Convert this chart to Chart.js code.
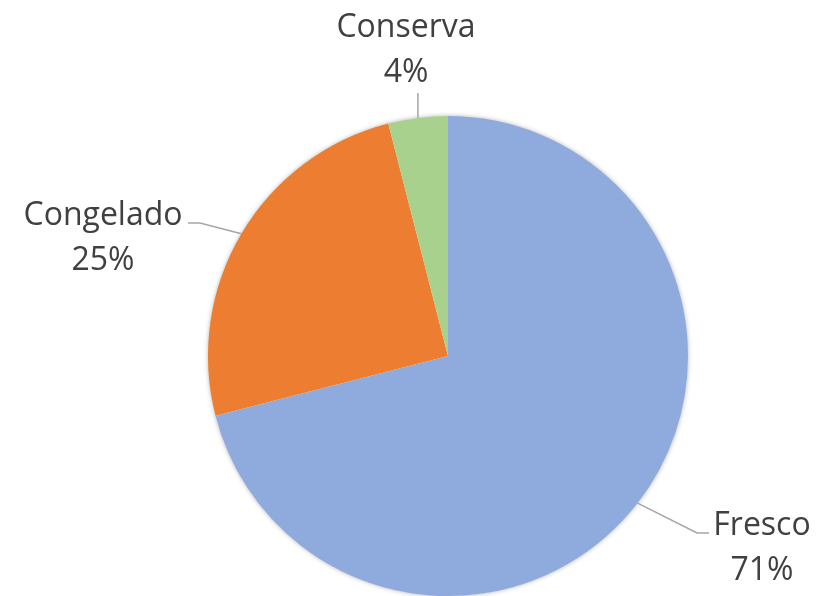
<!DOCTYPE html>
<html>
<head>
  <script src="https://cdn.jsdelivr.net/npm/chart.js@4"></script>
  <style>
    body { margin: 0; background: #fff; }
    #wrap { width: 818px; height: 596px; }
  </style>
</head>
<body>
  <div id="wrap">
    <canvas id="pie" width="818" height="596"></canvas>
  </div>
  <script>
    const categories = ['Fresco', 'Congelado', 'Conserva'];
    const shares = [71, 25, 4];
    const sliceColors = ['#8FAADC', '#ED7D31', '#A9D18E'];

    // where each data label sits: text centre x, first baseline y, elbow of the leader line
    const labelSpots = [
      { x: 762, y: 535, elbow: [[697, 533], [709, 533]] },
      { x: 103, y: 225, elbow: [[200, 223], [188, 223]] },
      { x: 406, y: 37,  elbow: [[null, 93]] }
    ];

    // soft shadow round the whole pie, drawn once under the slices
    const shadowPlugin = {
      id: 'shadow',
      beforeDatasetsDraw(chart) {
        const arc = chart.getDatasetMeta(0).data[0];
        if (!arc) return;
        const ctx = chart.ctx;
        ctx.save();
        ctx.shadowColor = 'rgba(0,0,0,0.35)';
        ctx.shadowBlur = 5;
        ctx.fillStyle = '#fff';
        ctx.beginPath();
        ctx.arc(arc.x, arc.y, arc.outerRadius - 0.5, 0, Math.PI * 2);
        ctx.fill();
        ctx.restore();
      }
    };

    const outsideLabels = {
      id: 'outsideLabels',
      afterDraw(chart) {
        const ctx = chart.ctx;
        const meta = chart.getDatasetMeta(0);
        const total = shares.reduce((a, b) => a + b, 0);
        ctx.save();
        meta.data.forEach((arc, i) => {
          const mid = (arc.startAngle + arc.endAngle) / 2;
          const ex = arc.x + Math.cos(mid) * arc.outerRadius;
          const ey = arc.y + Math.sin(mid) * arc.outerRadius;
          const spot = labelSpots[i];

          ctx.strokeStyle = '#A6A6A6';
          ctx.lineWidth = 1.5;
          ctx.beginPath();
          ctx.moveTo(ex, ey);
          spot.elbow.forEach(p => ctx.lineTo(p[0] === null ? ex : p[0], p[1]));
          ctx.stroke();

          ctx.fillStyle = '#404040';
          ctx.font = '32px "Open Sans"';
          ctx.textAlign = 'center';
          ctx.textBaseline = 'alphabetic';
          ctx.fillText(categories[i], spot.x, spot.y);
          ctx.fillText(Math.round(shares[i] / total * 100) + '%', spot.x, spot.y + 45);
        });
        ctx.restore();
      }
    };

    new Chart(document.getElementById('pie'), {
      type: 'pie',
      data: {
        labels: categories,
        datasets: [{
          data: shares,
          backgroundColor: sliceColors,
          borderWidth: 0
        }]
      },
      options: {
        responsive: false,
        animation: false,
        layout: { padding: { top: 116, bottom: 0, left: 208, right: 130 } },
        plugins: {
          legend: { display: false },
          tooltip: { enabled: false }
        }
      },
      plugins: [shadowPlugin, outsideLabels]
    });
  </script>
</body>
</html>
